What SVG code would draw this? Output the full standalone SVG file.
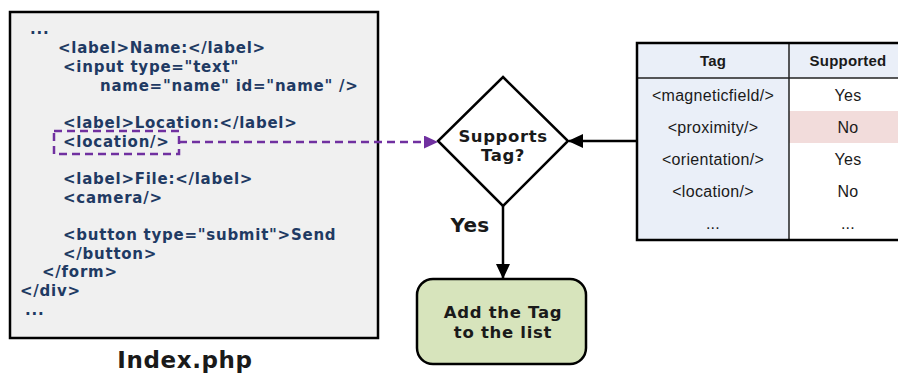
<svg xmlns="http://www.w3.org/2000/svg" width="898" height="374" viewBox="0 0 898 374">
<style>
.code{font-family:"DejaVu Sans",Verdana,sans-serif;font-weight:bold;font-size:15px;letter-spacing:0.75px;fill:#1f3a63}
.lbl{font-family:"DejaVu Sans",Verdana,sans-serif;font-weight:bold;fill:#1a1a1a}
.tb{font-family:"Liberation Sans",Arial,sans-serif;font-size:16px;letter-spacing:0.3px;fill:#1a1a1a;text-anchor:middle}
.th{font-size:15px;font-weight:bold;letter-spacing:0.2px}
.edge{stroke:#000;stroke-width:2.5;fill:none}
</style>
<defs>
<marker id="ab" markerWidth="15" markerHeight="14" refX="14" refY="7" orient="auto" markerUnits="userSpaceOnUse" viewBox="0 0 15 14"><path d="M0,0 L15,7 L0,14 z" fill="#000"/></marker>
<marker id="ap" markerWidth="14" markerHeight="13" refX="13" refY="6.5" orient="auto" markerUnits="userSpaceOnUse" viewBox="0 0 14 13"><path d="M0,0 L14,6.5 L0,13 z" fill="#7030a0"/></marker>
</defs>
<g id="code">
<rect x="10" y="12" width="368" height="326" fill="#f0f0f0" stroke="#000" stroke-width="2.5"/>
<text class="code" x="30" y="34">...</text>
<text class="code" x="58" y="53">&lt;label&gt;Name:&lt;/label&gt;</text>
<text class="code" x="63" y="72">&lt;input type="text"</text>
<text class="code" x="100" y="91">name="name" id="name" /&gt;</text>
<text class="code" x="63" y="128">&lt;label&gt;Location:&lt;/label&gt;</text>
<text class="code" x="63" y="147">&lt;location/&gt;</text>
<text class="code" x="63" y="184">&lt;label&gt;File:&lt;/label&gt;</text>
<text class="code" x="63" y="203">&lt;camera/&gt;</text>
<text class="code" x="63" y="240">&lt;button type="submit"&gt;Send</text>
<text class="code" x="63" y="259">&lt;/button&gt;</text>
<text class="code" x="42" y="277">&lt;/form&gt;</text>
<text class="code" x="20" y="296">&lt;/div&gt;</text>
<text class="code" x="25" y="315">...</text>
<rect x="54" y="131" width="125" height="23" fill="none" stroke="#7030a0" stroke-width="2.5" stroke-dasharray="8,5"/>
<text class="lbl" x="185" y="368" font-size="23" letter-spacing="0.6" text-anchor="middle" fill="#000">Index.php</text>
</g>
<g id="decision">
<polygon points="503,77 568,141 503,206 438,141" fill="#fff" stroke="#000" stroke-width="2.5"/>
<text class="lbl" x="503" y="142" font-size="16.5" letter-spacing="0.6" text-anchor="middle">Supports</text>
<text class="lbl" x="503" y="161" font-size="16.5" letter-spacing="0.6" text-anchor="middle">Tag?</text>
</g>
<g id="action">
<rect x="417" y="279" width="169" height="85" rx="16" fill="#d7e4bc" stroke="#000" stroke-width="2.5"/>
<text class="lbl" x="503" y="318" font-size="16.5" letter-spacing="0.7" text-anchor="middle">Add the Tag</text>
<text class="lbl" x="503" y="338" font-size="16.5" letter-spacing="0.7" text-anchor="middle">to the list</text>
</g>
<g id="table">
<rect x="637" y="43" width="270" height="197" fill="#fff"/>
<rect x="637" y="43" width="152" height="197" fill="#eaeff8"/>
<rect x="637" y="43" width="270" height="35" fill="#eaeff8"/>
<rect x="789" y="111" width="118" height="32" fill="#f2dcdb"/>
<line x1="637" y1="78" x2="900" y2="78" stroke="#222" stroke-width="1.5"/>
<line x1="789" y1="43" x2="789" y2="240" stroke="#222" stroke-width="1.5"/>
<rect x="637" y="43" width="270" height="197" fill="none" stroke="#000" stroke-width="2.5"/>
<text class="tb th" x="713" y="66">Tag</text>
<text class="tb th" x="848" y="66">Supported</text>
<text class="tb" x="713" y="101">&lt;magneticfield/&gt;</text>
<text class="tb" x="848" y="101">Yes</text>
<text class="tb" x="713" y="133">&lt;proximity/&gt;</text>
<text class="tb" x="848" y="133">No</text>
<text class="tb" x="713" y="165">&lt;orientation/&gt;</text>
<text class="tb" x="848" y="165">Yes</text>
<text class="tb" x="713" y="197">&lt;location/&gt;</text>
<text class="tb" x="848" y="197">No</text>
<text class="tb" x="713" y="229">...</text>
<text class="tb" x="848" y="229">...</text>
</g>
<g id="connectors">
<line x1="179" y1="142" x2="437" y2="142" stroke="#7030a0" stroke-width="2.5" stroke-dasharray="8,5" marker-end="url(#ap)"/>
<line x1="637" y1="141" x2="569" y2="141" class="edge" marker-end="url(#ab)"/>
<line x1="503" y1="206" x2="503" y2="278" class="edge" marker-end="url(#ab)"/>
<text class="lbl" x="470" y="232" font-size="20" letter-spacing="0.3" text-anchor="middle">Yes</text>
</g>
</svg>
